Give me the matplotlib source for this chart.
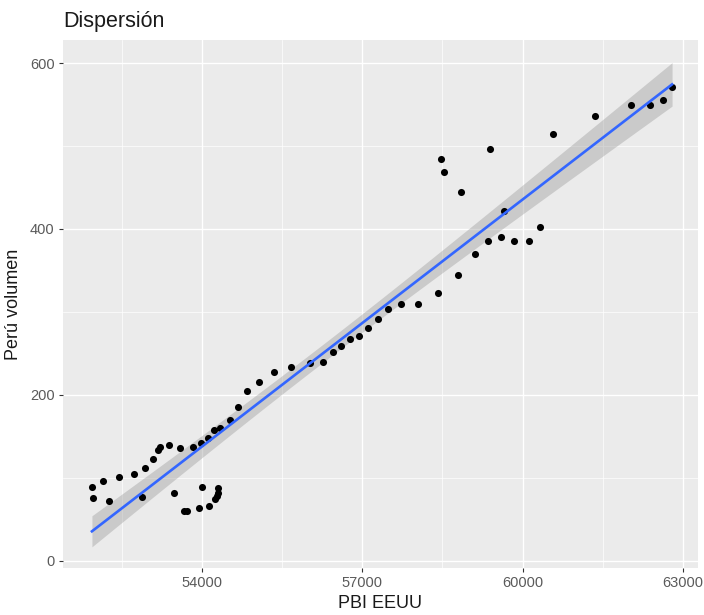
import numpy as np
import matplotlib
matplotlib.use("Agg")
import matplotlib.pyplot as plt
from matplotlib.ticker import FixedLocator

plt.rcParams['font.family'] = ['Liberation Sans', 'DejaVu Sans']

# Data
pbi_eeuu = [51946, 51965, 52151, 52263, 52450, 52730, 52936, 52880, 53085, 53178,
            53216, 53384, 53589, 53832, 53981, 54112, 54224, 54336, 54523, 54672,
            54840, 55064, 55344, 55662, 56017, 56259, 56446, 56595, 56763, 56931,
            57100, 57286, 57473, 57734, 58052, 58425, 58799, 59116, 59359, 59602,
            59844, 60124, 60330, 59658, 58481, 58537, 58855, 59396, 60572, 61357,
            62029, 62384, 62626, 62794,
            53477, 53664, 53720, 53944, 54131, 54000, 54243, 54280, 54299, 54299]
peru_volumen = [89, 76, 96, 72, 101, 105, 112, 77, 122, 133,
                137, 139, 136, 137, 142, 148, 157, 160, 169, 185,
                204, 216, 227, 234, 238, 240, 251, 259, 267, 271,
                280, 292, 304, 309, 310, 323, 344, 370, 386, 390,
                386, 385, 402, 422, 485, 469, 445, 497, 515, 536,
                550, 550, 556, 571,
                81, 60, 60, 63, 66, 89, 74, 78, 82, 88]

title = "Dispersión"
x_label = "PBI EEUU"
y_label = "Perú volumen"
x_ticks = [54000, 57000, 60000, 63000]
y_ticks = [0, 200, 400, 600]

x = np.array(pbi_eeuu, dtype=float)
y = np.array(peru_volumen, dtype=float)

# linear model with 95% confidence band (like geom_smooth(method="lm"))
n = len(x)
b1, b0 = np.polyfit(x, y, 1)
resid = y - (b0 + b1 * x)
s = np.sqrt(np.sum(resid ** 2) / (n - 2))
xm = x.mean()
sxx = np.sum((x - xm) ** 2)
t_crit = 1.999
xs = np.linspace(x.min(), x.max(), 80)
ys = b0 + b1 * xs
se = s * np.sqrt(1.0 / n + (xs - xm) ** 2 / sxx)

fig = plt.figure(figsize=(7.04, 6.15), dpi=100)
ax = fig.add_axes([63 / 704, 1 - 568 / 615, (698 - 63) / 704, (568 - 40) / 615])
ax.set_facecolor('#EBEBEB')
for sp in ax.spines.values():
    sp.set_visible(False)

ax.set_xlim(51405, 63279)
ax.set_ylim(-9, 628)

ax.xaxis.set_major_locator(FixedLocator(x_ticks))
ax.xaxis.set_minor_locator(FixedLocator([52500, 55500, 58500, 61500]))
ax.yaxis.set_major_locator(FixedLocator(y_ticks))
ax.yaxis.set_minor_locator(FixedLocator([100, 300, 500]))
ax.grid(which='major', color='white', linewidth=1.0)
ax.grid(which='minor', color='white', linewidth=0.5)
ax.set_axisbelow(True)
ax.tick_params(which='major', length=3, color='#333333', width=0.8,
               labelsize=10.5, labelcolor='#5A5A5A', pad=3)
ax.tick_params(which='minor', length=0)
ax.set_xticklabels([str(v) for v in x_ticks])
ax.set_yticklabels([str(v) for v in y_ticks])

ax.fill_between(xs, ys - t_crit * se, ys + t_crit * se, color='#999999',
                alpha=0.4, linewidth=0, zorder=2)
ax.scatter(x, y, s=26, color='black', zorder=3, linewidths=0)
ax.plot(xs, ys, color='#3366FF', linewidth=1.9, zorder=4)

ax.set_xlabel(x_label, fontsize=13, color='#1A1A1A', labelpad=3)
ax.set_ylabel(y_label, fontsize=13, color='#1A1A1A', labelpad=6)
fig.text(63 / 704, 1 - 21 / 615, title, fontsize=15.5, color='#1A1A1A',
         ha='left', va='center')

fig.savefig('out.png', dpi=100)
